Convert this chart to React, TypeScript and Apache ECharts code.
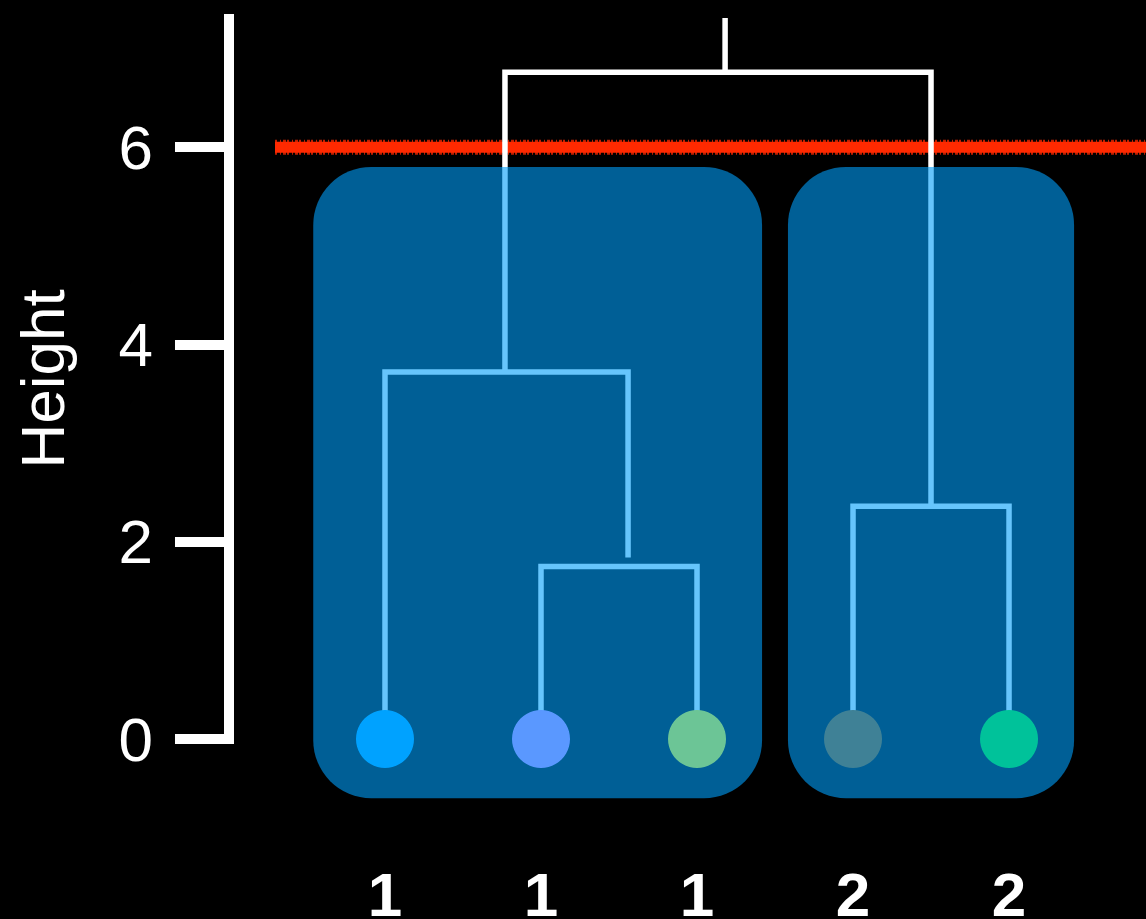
import React, { useEffect, useRef } from "react";
import * as echarts from "echarts";

// ---- data ----
const leafX = [1, 2, 3, 4, 5];
const leafClusters = ["1", "1", "1", "2", "2"];
const leafColors = ["#00a2ff", "#5a98ff", "#6cc596", "#3f8196", "#00c29a"];
const yTicks = [0, 2, 4, 6];
const cutHeight = 6;

// merges: left child (x, bottom), right child (x, bottom), merge height
const mergeNames = ["A", "B", "C", "root"];
const mergeHeights = [1.75, 3.72, 2.36, 6.76];
const mergeNodeX = [2.558, 1.769, 4.5, 3.18];
const mergeLeft: [number, number][] = [[2, 0], [1, 0], [4, 0], [1.769, 3.72]];
const mergeRight: [number, number][] = [[3, 0], [2.558, 1.84], [5, 0], [4.5, 2.36]];
const rootStemTop = 7.31;

// cluster boxes: [xStart, xEnd, yBottom, yTop]
const clusterBoxes = [
  [0.54, 3.417, -0.6, 5.8],
  [3.583, 5.417, -0.6, 5.8],
];

const FONT = "'Liberation Sans', Arial, Helvetica, sans-serif";

export default function App() {
  const ref = useRef<HTMLDivElement>(null);
  useEffect(() => {
    if (!ref.current) return;
    const chart = echarts.init(ref.current, null, { renderer: "svg" });

    const linkData = mergeNames.map((_, i) => ({
      coords: [
        [mergeLeft[i][0], mergeLeft[i][1]],
        [mergeLeft[i][0], mergeHeights[i]],
        [mergeRight[i][0], mergeHeights[i]],
        [mergeRight[i][0], mergeRight[i][1]],
      ],
    }));
    const rootIdx = mergeNames.indexOf("root");
    linkData.push({
      coords: [
        [mergeNodeX[rootIdx], mergeHeights[rootIdx]],
        [mergeNodeX[rootIdx], rootStemTop],
      ],
    });

    chart.setOption({
      animation: false,
      backgroundColor: "#000000",
      grid: {
        left: 224,
        right: 0,
        top: 19,
        bottom: 180,
        containLabel: false,
        outerBoundsMode: "none",
      },
      xAxis: {
        type: "value",
        min: -0.032,
        max: 5.878,
        axisLine: { show: false },
        axisTick: { show: false },
        splitLine: { show: false },
        axisLabel: {
          customValues: leafX,
          formatter: (v: number) => leafClusters[leafX.indexOf(v)] ?? "",
          color: "#ffffff",
          fontSize: 62,
          fontWeight: "bold",
          fontFamily: FONT,
          margin: 124,
        },
      },
      yAxis: {
        type: "value",
        min: 0,
        max: 7.3,
        offset: 1,
        name: "Height",
        nameLocation: "middle",
        nameGap: 150,
        nameTextStyle: { color: "#ffffff", fontSize: 62, fontFamily: FONT },
        axisLine: { show: true, lineStyle: { color: "#ffffff", width: 10, cap: "square" } },
        axisTick: {
          show: true,
          customValues: yTicks,
          length: 54,
          lineStyle: { color: "#ffffff", width: 10 },
        },
        axisLabel: {
          customValues: yTicks,
          color: "#ffffff",
          fontSize: 62,
          fontFamily: FONT,
          margin: 70,
        },
        splitLine: { show: false },
      },
      series: [
        {
          type: "line",
          z: 1,
          silent: true,
          symbol: "none",
          data: [[0.295, cutHeight], [5.878, cutHeight]],
          lineStyle: { color: "#ff2a00", width: 11 },
        },
        {
          type: "line",
          z: 1,
          silent: true,
          symbol: "none",
          data: [[0.295, cutHeight], [5.878, cutHeight]],
          lineStyle: { color: "#ff2a00", width: 15, type: [2, 3, 1, 2, 3, 1], opacity: 0.75 },
        },
        {
          type: "lines",
          coordinateSystem: "cartesian2d",
          polyline: true,
          z: 2,
          silent: true,
          clip: false,
          data: linkData,
          lineStyle: { color: "#ffffff", width: 5.5, opacity: 1, join: "miter" },
        },
        {
          type: "custom",
          z: 3,
          silent: true,
          clip: false,
          data: clusterBoxes,
          renderItem: (params: any, api: any) => {
            const p0 = api.coord([api.value(0), api.value(3)]);
            const p1 = api.coord([api.value(1), api.value(2)]);
            return {
              type: "rect",
              shape: { x: p0[0], y: p0[1], width: p1[0] - p0[0], height: p1[1] - p0[1], r: 58 },
              style: { fill: "rgba(0,158,250,0.6)" },
            };
          },
        },
        {
          type: "scatter",
          z: 4,
          silent: true,
          symbolSize: 58,
          data: leafX.map((x, i) => ({ value: [x, 0], itemStyle: { color: leafColors[i], opacity: 1 } })),
        },
      ],
    });
    return () => chart.dispose();
  }, []);
  return (
    <div
      ref={ref}
      style={{ position: "fixed", left: 0, top: 0, width: 1146, height: 919, background: "#000" }}
    />
  );
}
